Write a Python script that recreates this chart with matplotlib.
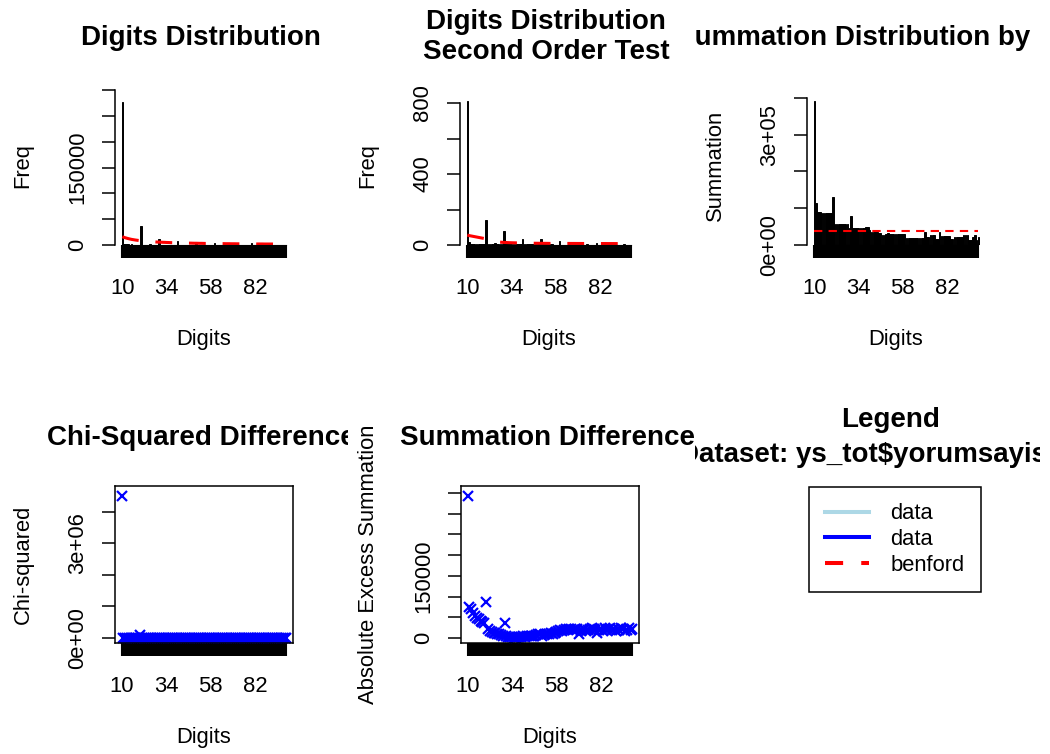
import matplotlib
matplotlib.use('Agg')
import matplotlib.pyplot as plt
from matplotlib.lines import Line2D
from matplotlib.transforms import Bbox, TransformedBbox

plt.rcParams['font.family'] = ['Liberation Sans', 'DejaVu Sans']

W, H = 1050, 754

# ---------------- data ----------------
digits = list(range(10, 100))
shown_x_labels = [10, 34, 58, 82]

freq_first_two = [
    277000, 1500, 1200, 1100, 900, 1000, 800, 700, 700, 600,
    37000, 700, 600, 500, 500, 1200, 500, 400, 400, 400,
    11000, 400, 400, 300, 300, 600, 300, 300, 300, 300,
    7700, 300, 300, 300, 300, 500, 300, 250, 250, 250,
    6000, 250, 250, 250, 250, 400, 250, 200, 200, 200,
    4500, 200, 200, 200, 200, 350, 200, 200, 200, 200,
    4000, 200, 200, 200, 200, 300, 200, 150, 150, 150,
    4500, 150, 150, 150, 150, 250, 150, 150, 150, 150,
    3500, 150, 150, 150, 150, 200, 150, 150, 150, 150,
]
benford_freq = [
    16100, 14700, 13600, 12600, 11700, 10900, 10300, 9700, 9200, 8700,
    8300, 7900, 7500, 7200, 6900, 6600, 6400, 6200, 5900, 5700,
    5600, 5400, 5200, 5100, 4900, 4800, 4600, 4500, 4400, 4300,
    4200, 4100, 4000, 3900, 3800, 3700, 3600, 3600, 3500, 3400,
    3400, 3300, 3200, 3200, 3100, 3000, 3000, 2900, 2900, 2800,
    2800, 2700, 2700, 2700, 2600, 2600, 2500, 2500, 2500, 2400,
    2400, 2400, 2300, 2300, 2300, 2200, 2200, 2200, 2200, 2100,
    2100, 2100, 2100, 2000, 2000, 2000, 2000, 1900, 1900, 1900,
    1900, 1900, 1800, 1800, 1800, 1800, 1800, 1700, 1700, 1700,
]
freq_second_order = [
    810, 15, 8, 6, 5, 6, 5, 4, 4, 4,
    141, 5, 4, 4, 4, 13, 4, 3, 3, 3,
    81, 3, 3, 3, 3, 6, 3, 3, 3, 3,
    34, 3, 3, 3, 3, 5, 3, 3, 3, 3,
    32, 3, 3, 3, 3, 4, 3, 2, 2, 2,
    22, 2, 2, 2, 2, 4, 2, 2, 2, 2,
    15, 2, 2, 2, 2, 3, 2, 2, 2, 2,
    13, 2, 2, 2, 2, 3, 2, 2, 2, 2,
    10, 2, 2, 2, 2, 3, 2, 2, 2, 2,
]
benford_second_order = [
    56, 53, 51, 49, 47, 45, 43, 41, 39, 37,
    34, 31, 28, 25, 22, 20, 18, 17, 16, 15,
    14.5, 14, 13.5, 13, 12.7, 12.4, 12.1, 11.8, 11.5, 11.2,
    11, 10.8, 10.6, 10.4, 10.2, 10, 9.9, 9.8, 9.7, 9.6,
    9.5, 9.4, 9.3, 9.2, 9.1, 9, 9, 9, 9, 9,
    8.9, 8.9, 8.9, 8.8, 8.8, 8.8, 8.7, 8.7, 8.7, 8.6,
    8.6, 8.6, 8.5, 8.5, 8.5, 8.4, 8.4, 8.4, 8.3, 8.3,
    8.3, 8.3, 8.2, 8.2, 8.2, 8.2, 8.1, 8.1, 8.1, 8.1,
    8.0, 8.0, 8.0, 8.0, 8.0, 8.0, 8.0, 8.0, 8.0, 8.0,
]
summation = [
    391000, 114000, 91000, 91000, 86000, 86000, 86000, 86000, 86000, 86000,
    130000, 57000, 57000, 57000, 57000, 57000, 57000, 57000, 57000, 45000,
    79000, 45000, 45000, 45000, 45000, 45000, 45000, 45000, 48000, 48000,
    42000, 36000, 36000, 36000, 36000, 32000, 32000, 27000, 27000, 30000,
    34000, 30000, 30000, 30000, 30000, 30000, 30000, 30000, 30000, 30000,
    18000, 18000, 18000, 18000, 18000, 18000, 18000, 18000, 18000, 18000,
    36000, 23000, 23000, 26000, 26000, 26000, 15000, 15000, 35000, 25000,
    25000, 25000, 25000, 25000, 15000, 15000, 23000, 23000, 23000, 23000,
    23000, 27000, 27000, 27000, 14000, 14000, 23000, 28000, 14000, 23000,
]
benford_summation = 38000
chi_squared = [
    4500000, 12000, 11000, 10000, 9500, 9000, 8500, 8000, 7600, 7200,
    100000, 6600, 6300, 6100, 5800, 4500, 5400, 5300, 5100, 4900,
    5200, 4700, 4600, 4500, 4400, 3500, 4200, 4100, 4000, 3900,
    1600, 3800, 3700, 3600, 3500, 2800, 3400, 3300, 3300, 3200,
    2400, 3100, 3000, 3000, 2900, 2300, 2800, 2800, 2700, 2700,
    1000, 2600, 2600, 2500, 2500, 2000, 2400, 2400, 2400, 2300,
    1100, 2300, 2200, 2200, 2200, 1700, 2100, 2100, 2100, 2000,
    1600, 2000, 2000, 1900, 1900, 1500, 1900, 1800, 1800, 1800,
    1000, 1800, 1700, 1700, 1700, 1400, 1700, 1600, 1600, 1600,
]
abs_excess_summation = [
    343000, 75000, 70000, 60000, 52000, 48000, 45000, 40000, 38000, 35000,
    88000, 22000, 18000, 15000, 12000, 12000, 10000, 9000, 8000, 6000,
    36000, 4000, 3000, 2000, 2000, 1000, 1000, 2000, 2000, 3000,
    6000, 3000, 4000, 4000, 5000, 6000, 6000, 7000, 9000, 10000,
    5000, 8000, 9000, 10000, 10000, 11000, 10000, 11000, 15000, 16000,
    20000, 18000, 20000, 21000, 20000, 22000, 21000, 20000, 22000, 21000,
    10000, 18000, 20000, 22000, 18000, 20000, 22000, 24000, 22000, 20000,
    12000, 20000, 22000, 18000, 24000, 20000, 22000, 24000, 20000, 22000,
    18000, 22000, 20000, 24000, 22000, 18000, 20000, 24000, 20000, 22000,
]
legend_labels = ['data', 'data', 'benford']
legend_colors = ['lightblue', 'blue', 'red']

# ---------------- style ----------------
TITLE_FS = 20
LAB_FS = 15.8
TICK_LEN = 9.4
fig = plt.figure(figsize=(W / 100, H / 100), dpi=100)


def px_axes(x0, y0, x1, y1):
    return fig.add_axes([x0 / W, 1 - y1 / H, (x1 - x0) / W, (y1 - y0) / H])


def clipped_text(xc, yc, s, col, **kw):
    t = fig.text(xc / W, 1 - yc / H, s, ha='center', va='center',
                 fontsize=TITLE_FS, fontweight='bold', **kw)
    box = TransformedBbox(Bbox.from_extents(col[0] / W, 0, col[1] / W, 1),
                          fig.transFigure)
    t.set_clip_box(box)
    t.set_clip_on(True)
    return t


COLS = [(0, 348), (348, 695), (695, 1040)]


def common_axis(ax, yticks, ylabels, ylabel, xlabel, x_ticks, x_labels,
                height_px, box=False):
    ax.set_yticks(yticks, labels=ylabels)
    ax.set_xticks(x_ticks, labels=x_labels)
    ax.tick_params(axis='y', direction='out', length=TICK_LEN, width=1.1,
                   labelsize=LAB_FS, pad=10, labelrotation=90)
    ax.tick_params(axis='x', direction='out', length=TICK_LEN, width=1.5,
                   labelsize=LAB_FS, pad=14.5)
    for lab in ax.get_yticklabels():
        lab.set_va('center')
    ax.set_ylabel(ylabel, fontsize=LAB_FS)
    ax.yaxis.set_label_coords(-92 / 178, 0.5)
    ax.yaxis.label.set_va('center')
    ax.set_xlabel(xlabel, fontsize=LAB_FS)
    ax.xaxis.set_label_coords(0.5, -95 / height_px)
    ax.xaxis.label.set_va('center')
    if box:
        for sp in ax.spines.values():
            sp.set_linewidth(1.1)
    else:
        ax.spines['top'].set_visible(False)
        ax.spines['right'].set_visible(False)
        ax.spines['left'].set_bounds(yticks[0], yticks[-1])
        ax.spines['left'].set_linewidth(1.1)
        ax.spines['bottom'].set_bounds(x_ticks[0], x_ticks[-1])


def bar_panel(rect, values, expected, ylabel, yticks, ylabels, ylim, red_lw,
              red_dash, flat=False):
    ax = px_axes(*rect)
    xpos = [0.7 + 1.2 * i for i in range(len(digits))]
    ax.bar(xpos, values, width=1.0, color='black', edgecolor='black',
           linewidth=0.7)
    exp_vals = [expected] * len(xpos) if flat else expected
    ax.plot(xpos, exp_vals, color='red', lw=red_lw, ls=(0, red_dash))
    ax.set_xlim(-4.07, 111.77)
    ax.set_ylim(*ylim)
    xl = [str(d) if d in shown_x_labels else '' for d in digits]
    common_axis(ax, yticks, ylabels, ylabel, 'Digits', xpos, xl,
                rect[3] - rect[1])
    return ax


# Panel 1
bar_panel((115, 86, 293, 245), freq_first_two, benford_freq, 'Freq',
          [0, 50000, 100000, 150000, 200000, 250000, 300000],
          ['0', '', '', '150000', '', '', ''], (0, 308000), 2.2, (5.5, 5.5))
clipped_text(201, 38, 'Digits Distribution', COLS[0])

# Panel 2
bar_panel((460, 86, 638, 245), freq_second_order, benford_second_order,
          'Freq', [0, 200, 400, 600, 800], ['0', '', '400', '', '800'],
          (0, 896), 2.2, (5.5, 5.5))
clipped_text(546, 37, 'Digits Distribution\nSecond Order Test', COLS[1],
             linespacing=1.2)

# Panel 3
bar_panel((807, 86, 985, 245), summation, benford_summation, 'Summation',
          [0, 100000, 200000, 300000, 400000],
          ['0e+00', '', '', '3e+05', ''], (0, 432600), 1.5, (4, 3), flat=True)
clipped_text(895, 38, 'Summation Distribution by Digits', (695, 1034))

xl = [str(d) if d in shown_x_labels else '' for d in digits]

# Panel 4
ax4 = px_axes(115, 486, 293, 643)
ax4.plot(digits, chi_squared, ls='none', marker='x', color='blue', ms=7,
         mew=1.6)
ax4.set_xlim(6.44, 102.56)
ax4.set_ylim(-159000, 4825000)
common_axis(ax4, [0, 1000000, 2000000, 3000000, 4000000],
            ['0e+00', '', '', '3e+06', ''], 'Chi-squared', 'Digits',
            digits, xl, 157, box=True)
clipped_text(201, 438, 'Chi-Squared Difference', COLS[0])

# Panel 5
ax5 = px_axes(461, 486, 639, 643)
ax5.plot(digits, abs_excess_summation, ls='none', marker='x', color='blue',
         ms=7, mew=1.6)
ax5.set_xlim(6.44, 102.56)
ax5.set_ylim(-12100, 367000)
common_axis(ax5, [0, 50000, 100000, 150000, 200000, 250000, 300000, 350000],
            ['0', '', '', '150000', '', '', '', ''],
            'Absolute Excess Summation', 'Digits', digits, xl, 157, box=True)
clipped_text(547, 438, 'Summation Difference', COLS[1])

# Panel 6: legend
clipped_text(891, 420, 'Legend', COLS[2])
clipped_text(867, 455, 'Dataset: ys_tot$yorumsayisi', COLS[2])
handles = [
    Line2D([], [], color=legend_colors[0], lw=2.9),
    Line2D([], [], color=legend_colors[1], lw=2.9),
    Line2D([], [], color=legend_colors[2], lw=2.9, ls=(0, (4.5, 4.5))),
]
leg = fig.legend(handles, legend_labels, loc='upper left',
                 bbox_to_anchor=(809 / W, 1 - 487 / H),
                 bbox_transform=fig.transFigure, borderaxespad=0,
                 fontsize=LAB_FS, frameon=True, fancybox=False,
                 handlelength=2.0, handletextpad=0.95, borderpad=0.75,
                 labelspacing=0.21)
leg.get_frame().set_edgecolor('black')
leg.get_frame().set_linewidth(1.1)
leg.get_frame().set_alpha(None)

fig.savefig('out.png', dpi=100)
